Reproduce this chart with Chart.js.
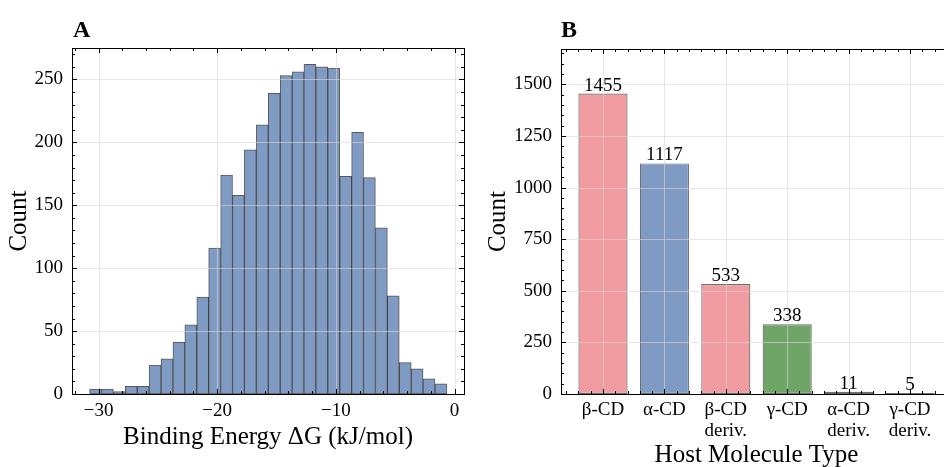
<!DOCTYPE html>
<html><head><meta charset="utf-8">
<script src="https://cdn.jsdelivr.net/npm/chart.js@4/dist/chart.umd.min.js"></script>
<style>
html,body{margin:0;padding:0;background:#fff;overflow:hidden;width:944px;height:467px;}
#c1{position:absolute;left:0;top:0;}
#c2{position:absolute;left:480px;top:0;}
</style></head><body>
<canvas id="c1" width="480" height="467"></canvas>
<canvas id="c2" width="480" height="480"></canvas>
<script>
// ---------- data ----------
const binCenters = [-30.26,-29.25,-28.25,-27.25,-26.24,-25.24,-24.23,-23.23,-22.23,-21.22,
  -20.22,-19.21,-18.21,-17.21,-16.20,-15.20,-14.19,-13.19,-12.19,-11.18,
  -10.18,-9.17,-8.17,-7.17,-6.16,-5.16,-4.15,-3.15,-2.15,-1.14];
const binCounts = [4,4,2,6,6,23,28,41,55,77,
  116,174,158,194,214,239,253,256,262,260,
  259,173,208,172,132,78,25,20,12,8];
const energyTicks = [-30,-20,-10,0];
const countTicksA = [0,50,100,150,200,250];

const hostTypes = [["β-CD"],["α-CD"],["β-CD","deriv."],["γ-CD"],["α-CD","deriv."],["γ-CD","deriv."]];
const hostCounts = [1455,1117,533,338,11,5];
const countTicksB = [0,250,500,750,1000,1250,1500];

// ---------- styles ----------
const FONT = "'Liberation Serif', 'Times New Roman', serif";
const BLUE = 'rgb(127,155,195)', PINK = 'rgb(241,156,160)', GREEN = 'rgb(111,165,103)';
const hostColors = [PINK, BLUE, PINK, GREEN, BLUE, GREEN];

const frame = {
  id: 'frame',
  afterDatasetsDraw(chart, args, o) {
    const {ctx, chartArea: {left, right, top, bottom}, scales: {x, y}} = chart;
    ctx.save();
    // grid on top of bars
    ctx.strokeStyle = 'rgba(215,215,215,0.6)';
    ctx.lineWidth = 1;
    ctx.beginPath();
    x.ticks.forEach(t => { const p = Math.round(x.getPixelForValue(t.value)) + 0.5; ctx.moveTo(p, top); ctx.lineTo(p, bottom); });
    y.ticks.forEach(t => { const p = Math.round(y.getPixelForValue(t.value)) + 0.5; ctx.moveTo(left, p); ctx.lineTo(right, p); });
    ctx.stroke();
    // value labels
    if (o.labels) {
      const meta = chart.getDatasetMeta(0);
      ctx.fillStyle = '#000';
      ctx.font = '19px ' + FONT;
      ctx.textAlign = 'center';
      ctx.textBaseline = 'alphabetic';
      meta.data.forEach((el, i) => {
        ctx.fillText(String(chart.data.datasets[0].data[i].y), el.x, el.y - 3);
      });
    }
    // spines
    ctx.strokeStyle = '#000';
    ctx.lineWidth = 1;
    ctx.strokeRect(Math.round(left) + 0.5, Math.round(top) + 0.5, Math.round(right) - Math.round(left), Math.round(bottom) - Math.round(top));
    // ticks (inward, all sides)
    const tickX = (v, len) => { const p = Math.round(x.getPixelForValue(v)) + 0.5; ctx.moveTo(p, bottom); ctx.lineTo(p, bottom - len); ctx.moveTo(p, top); ctx.lineTo(p, top + len); };
    const tickY = (v, len) => { const p = Math.round(y.getPixelForValue(v)) + 0.5; ctx.moveTo(left, p); ctx.lineTo(left + len, p); ctx.moveTo(right, p); ctx.lineTo(right - len, p); };
    ctx.beginPath();
    x.ticks.forEach(t => tickX(t.value, 5));
    y.ticks.forEach(t => tickY(t.value, 5));
    for (let v = Math.ceil(x.min / o.xMinor - 1e-9) * o.xMinor; v <= x.max + 1e-9; v += o.xMinor) tickX(v, 3);
    for (let v = Math.ceil(y.min / o.yMinor - 1e-9) * o.yMinor; v <= y.max + 1e-9; v += o.yMinor) tickY(v, 3);
    ctx.stroke();
    // panel letter
    ctx.fillStyle = '#000';
    ctx.font = 'bold 24px ' + FONT;
    ctx.textAlign = 'left';
    ctx.textBaseline = 'alphabetic';
    ctx.fillText(o.letter, left + o.letterDx, 36.5);
    ctx.restore();
  }
};

function axisTitle(text, pad) {
  return { display: true, text, color: '#000', font: { family: FONT, size: 25, lineHeight: 1.2 }, padding: pad };
}

// ---------- panel A ----------
new Chart(document.getElementById('c1'), {
  type: 'bar',
  data: {
    datasets: [{
      data: binCenters.map((c, i) => ({ x: c, y: binCounts[i] })),
      backgroundColor: BLUE,
      borderColor: 'rgba(25,25,25,0.72)',
      borderWidth: 1,
      borderSkipped: false,
      barPercentage: 1,
      categoryPercentage: 1
    }]
  },
  options: {
    responsive: false, animation: false,
    layout: { padding: { top: 48, right: 16, left: 0, bottom: 0 } },
    plugins: { legend: { display: false }, tooltip: { enabled: false },
      frame: { xMinor: 2, yMinor: 10, letter: 'A', letterDx: 1 } },
    scales: {
      x: {
        type: 'linear', min: -32.24, max: 0.80, offset: false,
        afterBuildTicks: s => { s.ticks = energyTicks.map(v => ({ value: v })); },
        afterFit: s => { s.height = 73; },
        ticks: { color: '#000', font: { family: FONT, size: 19 }, padding: 6, maxRotation: 0,
          callback: v => String(v).replace('-', '\u2212') },
        grid: { display: false, drawTicks: false, offset: false }, border: { display: false },
        title: axisTitle('Binding Energy ΔG (kJ/mol)', { top: 0, bottom: 15 })
      },
      y: {
        min: 0, max: 275,
        afterBuildTicks: s => { s.ticks = countTicksA.map(v => ({ value: v })); },
        afterFit: s => { s.width = 72; },
        ticks: { color: '#000', font: { family: FONT, size: 19 }, padding: 9, callback: v => String(v) },
        grid: { display: false, drawTicks: false }, border: { display: false },
        title: axisTitle('Count', { top: 4, bottom: 0 })
      }
    }
  },
  plugins: [frame]
});

// ---------- panel B ----------
new Chart(document.getElementById('c2'), {
  type: 'bar',
  data: {
    datasets: [{
      data: hostCounts.map((v, i) => ({ x: i, y: v })),
      backgroundColor: hostColors,
      borderColor: 'rgba(30,30,30,0.65)',
      borderWidth: 1.2,
      borderSkipped: false,
      barPercentage: 0.8,
      categoryPercentage: 1
    }]
  },
  options: {
    responsive: false, animation: false,
    layout: { padding: { top: 49, right: 8, left: 0, bottom: 0 } },
    plugins: { legend: { display: false }, tooltip: { enabled: false },
      frame: { xMinor: 0.2, yMinor: 50, labels: true, letter: 'B', letterDx: 0 } },
    scales: {
      x: {
        type: 'linear', min: -0.684, max: 5.684, offset: false,
        afterBuildTicks: s => { s.ticks = hostTypes.map((_, i) => ({ value: i })); },
        afterFit: s => { s.height = 86; },
        ticks: { color: '#000', font: { family: FONT, size: 19, lineHeight: 1.1 }, padding: 6, maxRotation: 0,
          autoSkip: false, callback: v => hostTypes[v] },
        grid: { display: false, drawTicks: false, offset: false }, border: { display: false },
        title: axisTitle('Host Molecule Type', { top: 0, bottom: 9.5 })
      },
      y: {
        min: 0, max: 1671,
        afterBuildTicks: s => { s.ticks = countTicksB.map(v => ({ value: v })); },
        afterFit: s => { s.width = 81; },
        ticks: { color: '#000', font: { family: FONT, size: 19 }, padding: 9, callback: v => String(v) },
        grid: { display: false, drawTicks: false }, border: { display: false },
        title: axisTitle('Count', { top: 3, bottom: 0 })
      }
    }
  },
  plugins: [frame]
});
</script>
</body></html>
